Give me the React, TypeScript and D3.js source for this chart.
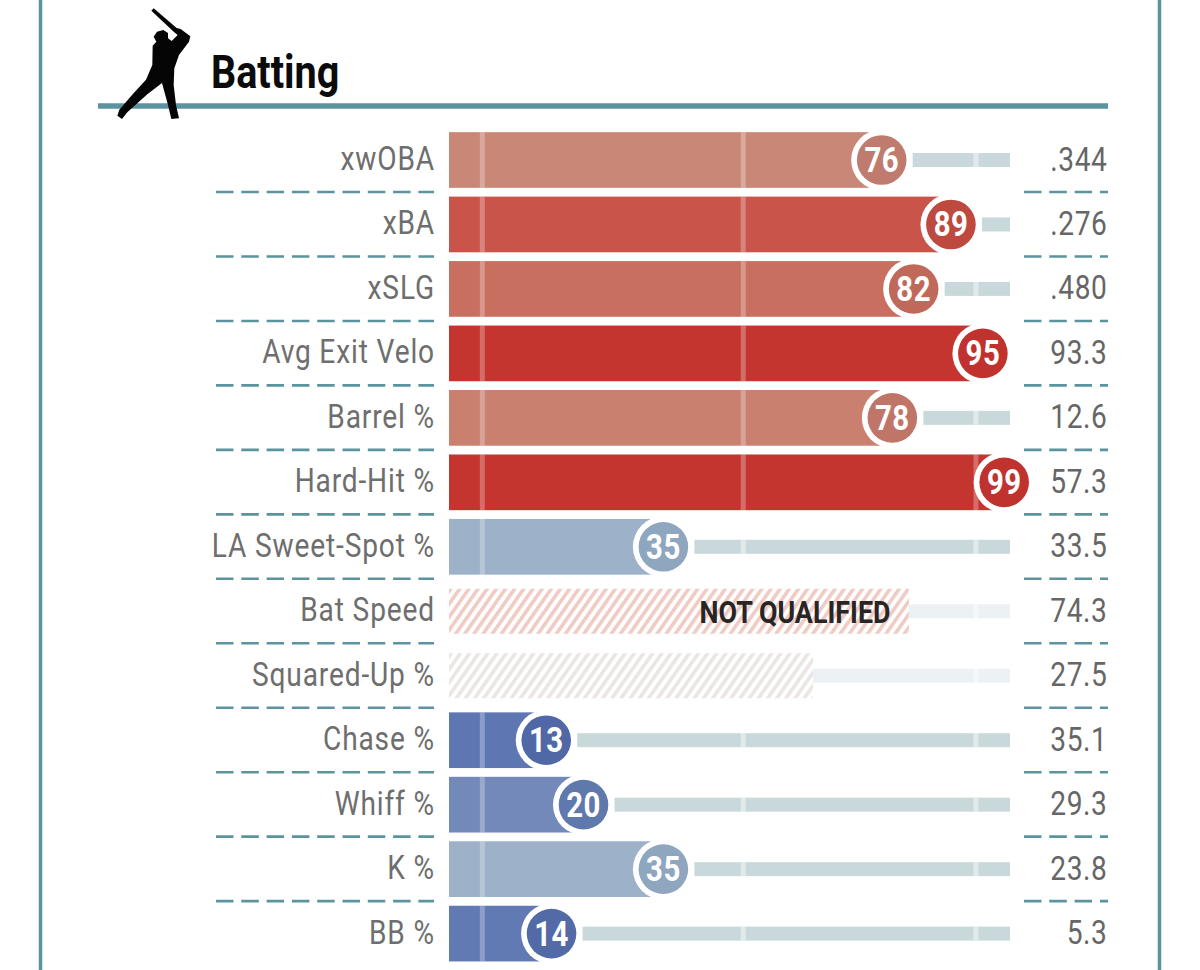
import React from "react";
import * as d3 from "d3";

const metrics = ["xwOBA","xBA","xSLG","Avg Exit Velo","Barrel %","Hard-Hit %","LA Sweet-Spot %","Bat Speed","Squared-Up %","Chase %","Whiff %","K %","BB %"];
const percentiles = [76,89,82,95,78,99,35,81.1,63.1,13,20,35,14];
const rawValues = [".344",".276",".480","93.3","12.6","57.3","33.5","74.3","27.5","35.1","29.3","23.8","5.3"];
const qualified = [true,true,true,true,true,true,true,false,false,true,true,true,true];
const hatchNames = ["", "", "", "", "", "", "", "hatchRed", "hatchGrey", "", "", "", ""];
const notes = ["", "", "", "", "", "", "", "NOT QUALIFIED", "", "", "", "", ""];
const refTicks = [1, 50, 93.7];
const colorStops = [13,20,35,76,82,89,95];
const barColors = ["#5e77b3","#7389ba","#9db2c8","#c98877","#c96f5f","#c9554a","#c4352f"];
const dotColors = ["#5069a6","#5f79ad","#8fa6bf","#bf7b6e","#c0695a","#be4a3f","#c0322e"];

const TEAL = "#5b949f";
const FONT = "Roboto, sans-serif";

const x = d3.scaleLinear().domain([0, 100]).range([477, 1009.5]);
const y = d3.scalePoint<string>().domain(metrics).range([160, 933.6]);
const barColor = d3.scaleLinear<string>().domain(colorStops).range(barColors).clamp(true);
const dotColor = d3.scaleLinear<string>().domain(colorStops).range(dotColors).clamp(true);

const BAR_LEFT = 449;
const TRACK_RIGHT = 1010;

function T({ px, py, size, weight = 400, fill, anchor = "end", scale = 0.84, spacing = 0, children }: any) {
  return (
    <text transform={`translate(${px},${py}) scale(${scale},1)`} fontFamily={FONT} fontSize={size}
      fontWeight={weight} fill={fill} textAnchor={anchor} letterSpacing={spacing}>{children}</text>
  );
}

const batter = "M124,17 L131,10 L200,69 L212,72 L241,94 L237,110 L207,150 L193,190 L191,240 L198,300 L207,340 L184,342 L174,300 L156,234 L112,268 L52,322 L36,342 L22,332 L28,314 L68,268 L108,224 L127,180 L128,122 L139,110 L131,95 L141,80 L160,75 L174,84 L174,100 L185,108 L203,90 L192,81 Z";

export default function App() {
  return (
    <svg width={1200} height={970} viewBox="0 0 1200 970"
      style={{ position: "absolute", left: 0, top: 0, background: "#fff" }}>
      <defs>
        <pattern id="hatchRed" width={7.5} height={7.5} patternUnits="userSpaceOnUse" patternTransform="rotate(35)">
          <rect width={7.5} height={7.5} fill="#fff" />
          <rect width={3.6} height={7.5} fill="#f0cbc4" />
        </pattern>
        <pattern id="hatchGrey" width={7.5} height={7.5} patternUnits="userSpaceOnUse" patternTransform="rotate(35)">
          <rect width={7.5} height={7.5} fill="#fff" />
          <rect width={3.6} height={7.5} fill="#ebe5e3" />
        </pattern>
      </defs>

      <line x1={40.5} x2={40.5} y1={0} y2={970} stroke={TEAL} strokeWidth={3.5} />
      <line x1={1159.5} x2={1159.5} y1={0} y2={970} stroke={TEAL} strokeWidth={3.5} />

      <line x1={98} x2={1108} y1={106} y2={106} stroke={TEAL} strokeWidth={5.5} />
      <g transform="translate(110,5) scale(0.3333)"><path d={batter} fill="#050505" /></g>
      <T px={211} py={88} size={46.5} weight={700} fill="#0b0b0b" anchor="start" scale={0.85}>Batting</T>

      {metrics.map((m, i) => {
        const cy = y(m)!;
        const p = percentiles[i];
        const cx = x(p);
        const isQ = qualified[i];
        const trackStart = isQ ? cx + 31 : cx;
        const h = isQ ? 55.7 : 45;
        const dashY = cy + 32;
        return (
          <g key={m}>
            <T px={435} py={cy + 10} size={33.5} fill="#6e6e6e" spacing={1}>{m}</T>
            <T px={1107.5} py={cy + 10.5} size={33.5} fill="#666666" spacing={0.7}>{rawValues[i]}</T>

            {i < metrics.length - 1 && (
              <>
                <line x1={216} x2={434} y1={dashY} y2={dashY} stroke={TEAL} strokeWidth={2.6} strokeDasharray="17.5 7.8" />
                <line x1={1024} x2={1108} y1={dashY} y2={dashY} stroke={TEAL} strokeWidth={2.6} strokeDasharray="17.5 7.8" />
              </>
            )}

            <rect x={trackStart} y={cy - 7} width={Math.max(0, TRACK_RIGHT - trackStart)} height={14}
              fill={isQ ? "#c9d9db" : "#ecf2f3"} />
            {refTicks.filter(t => x(t) > trackStart).map(t => (
              <rect key={t} x={x(t) - 2.5} y={cy - 7} width={5} height={14} fill="#fff" opacity={0.45} />
            ))}

            <rect x={BAR_LEFT} y={cy - h / 2} width={cx - BAR_LEFT} height={h}
              fill={isQ ? barColor(p) : `url(#${hatchNames[i]})`} />
            {isQ && refTicks.filter(t => x(t) < cx).map(t => (
              <rect key={t} x={x(t) - 2.5} y={cy - h / 2} width={5} height={h} fill="#fff" opacity={0.28} />
            ))}

            {isQ && (
              <>
                <circle cx={cx} cy={cy} r={30.5} fill="#fff" />
                <circle cx={cx} cy={cy} r={24.8} fill={dotColor(p)} />
                <T px={cx} py={cy + 12} size={35} weight={700} fill="#fff" anchor="middle" spacing={0.5}>{p}</T>
              </>
            )}
            {notes[i] && (
              <T px={890.5} py={cy + 11.5} size={32} weight={700} fill="#2a2525" scale={0.84}>{notes[i]}</T>
            )}
          </g>
        );
      })}
    </svg>
  );
}
